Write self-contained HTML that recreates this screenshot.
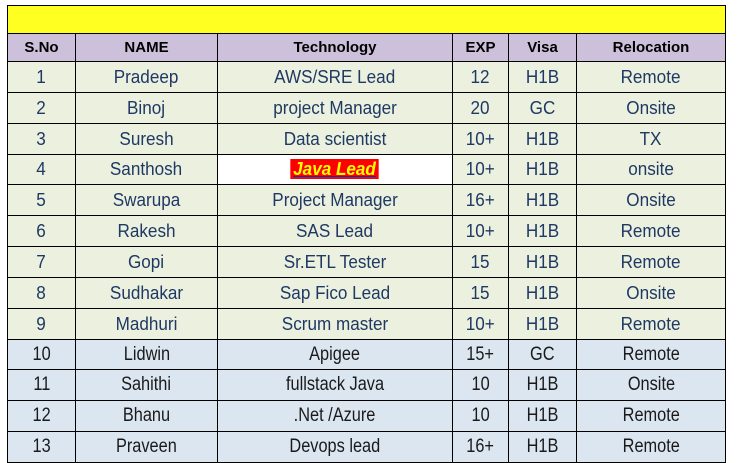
<!DOCTYPE html>
<html><head><style>
body{margin:0;width:749px;height:463px;background:#fff;position:relative;overflow:hidden;font-family:"Liberation Sans",sans-serif}
table{position:absolute;left:7px;top:5px;border-collapse:collapse;table-layout:fixed}
td{border:1.5px solid #000;text-align:center;padding:0;font-size:18px;color:#1f3864;white-space:nowrap;overflow:hidden;line-height:20px}
tr{height:30.85px}
tr.y{height:28px}
tr.h{height:28px}
tr.h td{background:#ccc0da;color:#000;font-weight:bold;font-size:15px}
tr.g td{background:#ebf1de}
tr.g td span{display:inline-block;transform:scaleX(.95)}
tr.b td{background:#dce6f1;color:#1a1a1a;font-size:19px}
tr.b td span{display:inline-block;transform:scaleX(.86)}
.j{background:#fff!important}
.j span{background:#ff0000;color:#ffff00;font-weight:bold;font-style:italic;text-decoration:underline;text-decoration-color:#0033cc;padding:0 3px}
</style></head><body>
<table>
<colgroup><col style="width:68px"><col style="width:142px"><col style="width:235px"><col style="width:56px"><col style="width:68px"><col style="width:149px"></colgroup>
<tr class="y"><td colspan="6" style="background:#ffff22"></td></tr>
<tr class="h"><td>S.No</td><td>NAME</td><td>Technology</td><td>EXP</td><td>Visa</td><td>Relocation</td></tr>
<tr class="g"><td><span>1</span></td><td><span>Pradeep</span></td><td><span>AWS/SRE Lead</span></td><td><span>12</span></td><td><span>H1B</span></td><td><span>Remote</span></td></tr>
<tr class="g"><td><span>2</span></td><td><span>Binoj</span></td><td><span>project Manager</span></td><td><span>20</span></td><td><span>GC</span></td><td><span>Onsite</span></td></tr>
<tr class="g"><td><span>3</span></td><td><span>Suresh</span></td><td><span>Data scientist</span></td><td><span>10+</span></td><td><span>H1B</span></td><td><span>TX</span></td></tr>
<tr class="g"><td><span>4</span></td><td><span>Santhosh</span></td><td class="j"><span>Java Lead</span></td><td><span>10+</span></td><td><span>H1B</span></td><td><span>onsite</span></td></tr>
<tr class="g"><td><span>5</span></td><td><span>Swarupa</span></td><td><span>Project Manager</span></td><td><span>16+</span></td><td><span>H1B</span></td><td><span>Onsite</span></td></tr>
<tr class="g"><td><span>6</span></td><td><span>Rakesh</span></td><td><span>SAS Lead</span></td><td><span>10+</span></td><td><span>H1B</span></td><td><span>Remote</span></td></tr>
<tr class="g"><td><span>7</span></td><td><span>Gopi</span></td><td><span>Sr.ETL Tester</span></td><td><span>15</span></td><td><span>H1B</span></td><td><span>Remote</span></td></tr>
<tr class="g"><td><span>8</span></td><td><span>Sudhakar</span></td><td><span>Sap Fico Lead</span></td><td><span>15</span></td><td><span>H1B</span></td><td><span>Onsite</span></td></tr>
<tr class="g"><td><span>9</span></td><td><span>Madhuri</span></td><td><span>Scrum master</span></td><td><span>10+</span></td><td><span>H1B</span></td><td><span>Remote</span></td></tr>
<tr class="b"><td><span>10</span></td><td><span>Lidwin</span></td><td><span>Apigee</span></td><td><span>15+</span></td><td><span>GC</span></td><td><span>Remote</span></td></tr>
<tr class="b"><td><span>11</span></td><td><span>Sahithi</span></td><td><span>fullstack Java</span></td><td><span>10</span></td><td><span>H1B</span></td><td><span>Onsite</span></td></tr>
<tr class="b"><td><span>12</span></td><td><span>Bhanu</span></td><td><span>.Net /Azure</span></td><td><span>10</span></td><td><span>H1B</span></td><td><span>Remote</span></td></tr>
<tr class="b"><td><span>13</span></td><td><span>Praveen</span></td><td><span>Devops lead</span></td><td><span>16+</span></td><td><span>H1B</span></td><td><span>Remote</span></td></tr>
</table>
</body></html>
